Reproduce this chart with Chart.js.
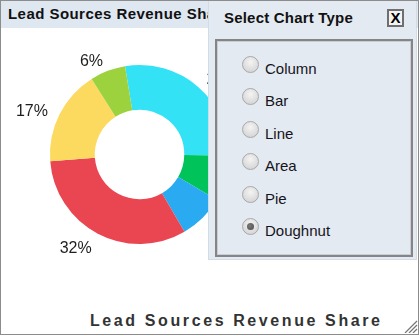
<!DOCTYPE html>
<html>
<head>
<meta charset="utf-8">
<script src="https://cdn.jsdelivr.net/npm/chart.js@4"></script>
<style>
  body { margin: 0; width: 420px; height: 336px; overflow: hidden; background: #fff; font-family: "Liberation Sans", Arial, sans-serif; }
  #frame { position: absolute; left: 0; top: 0; width: 417px; height: 333px; border: 1px solid #8c8c8c; background: #fff; }
  #titlebar { position: absolute; left: 1px; top: 1px; width: 417px; height: 27px; background: #dfe7f1; }
  #topTitle { position: absolute; left: 8px; top: 5px; font-size: 15px; line-height: 17px; font-weight: bold; color: #111; white-space: nowrap; letter-spacing: 0.45px; }
  #chartBox { position: absolute; left: 0; top: 30px; width: 280px; height: 250px; }
  #bottomTitle { position: absolute; left: 90px; top: 312px; font-size: 16px; line-height: 18px; font-weight: bold; color: #333; letter-spacing: 2.6px; white-space: nowrap; }
  #grip { position: absolute; left: 403px; top: 319px; }
  #popup { position: absolute; left: 208px; top: 1px; width: 207px; height: 258px; background: #e4eaf1; border: 1px solid #d3dbe6; border-top: none; }
  #popTitle { position: absolute; left: 224px; top: 9px; font-size: 15px; line-height: 17px; font-weight: bold; color: #111; letter-spacing: 0.2px; }
  #closeBtn { position: absolute; left: 387px; top: 9px; width: 13px; height: 14px; border: 2px solid #6f6f6f; background: #f3f3f3; font-size: 15px; line-height: 14px; font-weight: bold; text-align: center; color: #000; }
  #typeBox { position: absolute; left: 215px; top: 39px; width: 194px; height: 214px; border: 2px solid #858585; box-shadow: inset 0 0 0 1px #c9ced6; background: #e4eaf1; }
  .opt { position: absolute; left: 265px; font-size: 15px; line-height: 17px; color: #141420; }
  .radio { position: absolute; left: 242px; width: 15px; height: 15px; border: 1px solid #a8a8a8; border-radius: 50%;
           background: radial-gradient(circle at 50% 35%, #f4f4f4 0%, #dddddd 60%, #cecece 100%); }
  .radio.on::after { content: ""; position: absolute; left: 4px; top: 4px; width: 7px; height: 7px; border-radius: 50%;
           background: radial-gradient(circle at 40% 40%, #7a7a7a, #4a4a4a); }
</style>
</head>
<body>
<div id="frame"></div>
<div id="titlebar"></div>
<div id="topTitle">Lead Sources Revenue Share</div>
<div id="chartBox"><canvas id="leadChart" width="280" height="250"></canvas></div>
<div id="bottomTitle">Lead Sources Revenue Share</div>
<svg id="grip" width="15" height="14">
  <line x1="14" y1="2" x2="2" y2="14" stroke="#777" stroke-width="1.2"/>
  <line x1="14" y1="6" x2="6" y2="14" stroke="#777" stroke-width="1.2"/>
  <line x1="14" y1="10" x2="10" y2="14" stroke="#777" stroke-width="1.2"/>
</svg>
<div id="popup"></div>
<div id="popTitle">Select Chart Type</div>
<div id="closeBtn">X</div>
<div id="typeBox"></div>
<div id="options"></div>

<script>
// lead sources, clockwise from just left of 12 o'clock
const sources = ['Website', 'Email', 'Social Media', 'Referral', 'Trade Show', 'Cold Call'];
const revenueShare = [27.8, 8.2, 8.2, 32.2, 17.2, 6.4];
const sliceColors = ['#34e2f6', '#00c45a', '#2aaaf0', '#ea4652', '#fcd95f', '#9dd23f'];
const chartTypes = ['Column', 'Bar', 'Line', 'Area', 'Pie', 'Doughnut'];
const selectedType = 'Doughnut';

// radio list in the popup
const optBox = document.getElementById('options');
chartTypes.forEach((t, i) => {
    const top = 60 + i * 32.4;
    const r = document.createElement('div');
    r.className = 'radio' + (t === selectedType ? ' on' : '');
    r.style.top = (top - 4) + 'px';
    const lbl = document.createElement('div');
    lbl.className = 'opt';
    lbl.style.top = top + 'px';
    lbl.textContent = t;
    optBox.appendChild(r);
    optBox.appendChild(lbl);
});

// percent labels just outside the ring
const outsideLabels = {
    id: 'outsideLabels',
    afterDatasetsDraw(chart) {
        const ctx = chart.ctx;
        const meta = chart.getDatasetMeta(0);
        const total = revenueShare.reduce((a, b) => a + b, 0);
        ctx.save();
        ctx.font = '16px "Liberation Sans", Arial, sans-serif';
        ctx.fillStyle = '#1e1e1e';
        ctx.textBaseline = 'middle';
        meta.data.forEach((arc, i) => {
            const mid = (arc.startAngle + arc.endAngle) / 2;
            const r = arc.outerRadius + 13;
            const x = arc.x + Math.cos(mid) * r;
            const y = arc.y + Math.sin(mid) * r + 3;
            ctx.textAlign = Math.cos(mid) < 0 ? 'right' : 'left';
            ctx.fillText(Math.round(revenueShare[i] / total * 100) + '%', x, y);
        });
        ctx.restore();
    }
};

new Chart(document.getElementById('leadChart'), {
    type: 'doughnut',
    data: {
        labels: sources,
        datasets: [{
            data: revenueShare,
            backgroundColor: sliceColors,
            borderWidth: 0
        }]
    },
    options: {
        responsive: false,
        animation: false,
        rotation: -9.3,
        cutout: '50%',
        layout: { padding: { left: 50, right: 51, top: 35, bottom: 36 } },
        plugins: {
            legend: { display: false },
            tooltip: { enabled: false }
        }
    },
    plugins: [outsideLabels]
});
</script>
</body>
</html>
